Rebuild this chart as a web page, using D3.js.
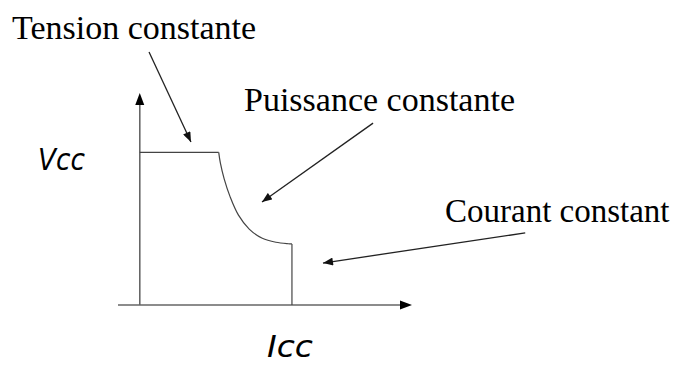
<!DOCTYPE html>
<html>
<head>
<meta charset="utf-8">
<script src="https://cdn.jsdelivr.net/npm/d3@7"></script>
<style>
  html, body { margin: 0; padding: 0; background: #fff; }
  svg { display: block; }
</style>
</head>
<body>
<svg id="chart" width="678" height="365"></svg>
<script>
// Characteristic (arbitrary units): tension plateau, constant power curve, constant current
const vPlateau = 7.2;
const curveI = [2.9, 2.96, 3.1, 3.32, 3.62, 4.02, 4.5, 5.0, 5.45, 5.59];
const curveV = [7.2, 6.7, 5.95, 5.1, 4.25, 3.58, 3.15, 2.96, 2.89, 2.88];
const iLimit = 5.59;

const axisLabels = ["Vcc", "Icc"];
const zoneLabels = ["Tension constante", "Puissance constante", "Courant constant"];
// arrows: tail and tip, in data units
const arrowTail = [[0.34, 11.93], [8.57, 8.58], [14.16, 3.40]];
const arrowTip = [[1.88, 7.69], [4.49, 4.86], [6.73, 1.98]];

const svg = d3.select("#chart");

const x = d3.scaleLinear().domain([-0.8, 10]).range([118, 412]);
const y = d3.scaleLinear().domain([0, 10]).range([305, 93]);

const defs = svg.append("defs");
defs.append("marker")
    .attr("id", "head")
    .attr("markerUnits", "userSpaceOnUse")
    .attr("viewBox", "0 0 10 8")
    .attr("refX", 10).attr("refY", 4)
    .attr("markerWidth", 11).attr("markerHeight", 8)
    .attr("orient", "auto")
  .append("path")
    .attr("d", "M0,0L10,4L0,8Z")
    .attr("fill", "#111");

// axes (no ticks)
svg.append("line")
    .attr("x1", x(-0.8)).attr("y1", y(0))
    .attr("x2", x(10) - 10).attr("y2", y(0))
    .attr("stroke", "#666").attr("stroke-width", 1.6);
svg.append("path")
    .attr("d", `M${x(10)},${y(0)}L${x(10) - 12},${y(0) - 4.5}L${x(10) - 12},${y(0) + 4.5}Z`)
    .attr("fill", "#000");

svg.append("line")
    .attr("x1", x(0)).attr("y1", y(0))
    .attr("x2", x(0)).attr("y2", y(10) + 10)
    .attr("stroke", "#666").attr("stroke-width", 1.6);
svg.append("path")
    .attr("d", `M${x(0)},${y(10)}L${x(0) - 4.5},${y(10) + 12}L${x(0) + 4.5},${y(10) + 12}Z`)
    .attr("fill", "#000");

// characteristic
const line = d3.line().x(d => x(d[0])).y(d => y(d[1]));
svg.append("path")
    .attr("d", line([[0, vPlateau], [curveI[0], vPlateau]]))
    .attr("fill", "none").attr("stroke", "#444").attr("stroke-width", 1.2);

const curvePts = curveI.map((v, i) => [v, curveV[i]]);
svg.append("path")
    .attr("d", d3.line().x(d => x(d[0])).y(d => y(d[1])).curve(d3.curveCatmullRom)(curvePts))
    .attr("fill", "none").attr("stroke", "#444").attr("stroke-width", 1.2);

svg.append("path")
    .attr("d", line([[iLimit, curveV[curveV.length - 1]], [iLimit, 0]]))
    .attr("fill", "none").attr("stroke", "#444").attr("stroke-width", 1.2);

// annotation arrows
arrowTail.forEach((t, i) => {
  svg.append("line")
      .attr("x1", x(t[0])).attr("y1", y(t[1]))
      .attr("x2", x(arrowTip[i][0])).attr("y2", y(arrowTip[i][1]))
      .attr("stroke", "#222").attr("stroke-width", 1.3)
      .attr("marker-end", "url(#head)");
});

// zone labels
const zonePos = [[12, 39], [244, 111], [445, 222]];
const zoneSize = [34, 34, 33];
svg.selectAll("text.zone")
  .data(zoneLabels)
  .enter().append("text")
    .attr("class", "zone")
    .attr("x", (d, i) => zonePos[i][0])
    .attr("y", (d, i) => zonePos[i][1])
    .attr("font-family", "'Liberation Serif', 'Times New Roman', serif")
    .attr("font-size", (d, i) => zoneSize[i])
    .attr("fill", "#000")
    .text(d => d);

// axis labels
svg.append("text")
    .attr("x", 38).attr("y", 170)
    .attr("font-family", "'DejaVu Sans', Verdana, sans-serif")
    .attr("font-style", "italic")
    .attr("font-size", 31)
    .attr("textLength", 47).attr("lengthAdjust", "spacingAndGlyphs")
    .text(axisLabels[0]);

svg.append("text")
    .attr("x", 267).attr("y", 357)
    .attr("font-family", "'DejaVu Sans', Verdana, sans-serif")
    .attr("font-style", "italic")
    .attr("font-size", 30)
    .attr("textLength", 46).attr("lengthAdjust", "spacingAndGlyphs")
    .text(axisLabels[1]);
</script>
</body>
</html>
